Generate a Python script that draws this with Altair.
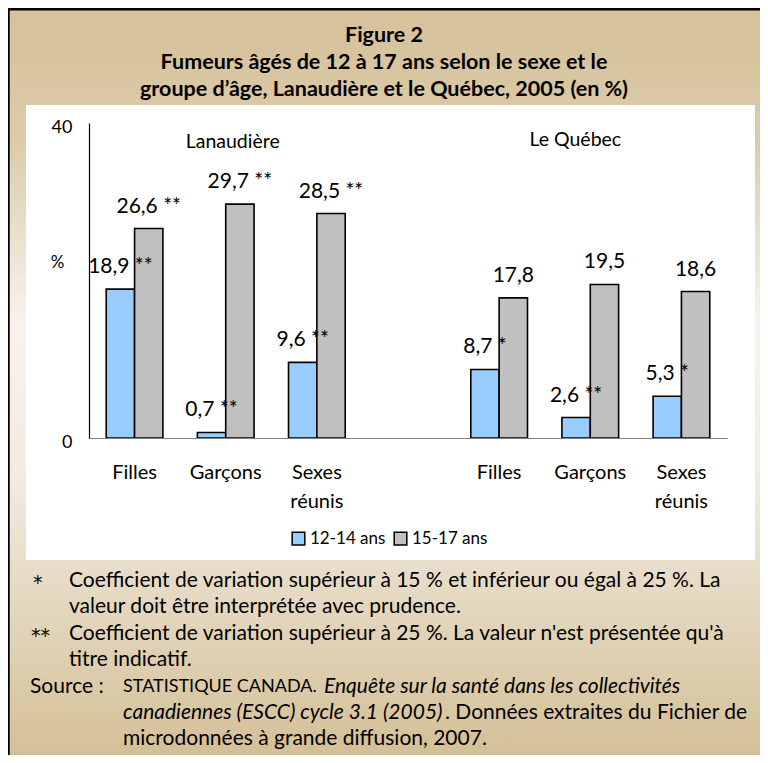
import altair as alt
import pandas as pd

# ---------------- data ----------------
regions = ["Lanaudière", "Le Québec"]
region_keys = ["L", "Q"]
categories = ["Filles", "Garçons", "Sexes réunis"]
age_groups = ["12-14 ans", "15-17 ans"]

lan_12_14 = [18.9, 0.7, 9.6]
lan_15_17 = [26.6, 29.7, 28.5]
que_12_14 = [8.7, 2.6, 5.3]
que_15_17 = [17.8, 19.5, 18.6]

lan_12_14_flag = ["**", "**", "**"]
lan_15_17_flag = ["**", "**", "**"]
que_12_14_flag = ["*", "**", "*"]
que_15_17_flag = ["", "", ""]

y_ticks = [0, 40]

# ---------------- table ----------------
slot_domain = ["L:Filles", "L:Garçons", "L:Sexes réunis", "gap",
               "Q:Filles", "Q:Garçons", "Q:Sexes réunis"]

rows = []
series = {
    ("L", "12-14 ans"): (lan_12_14, lan_12_14_flag),
    ("L", "15-17 ans"): (lan_15_17, lan_15_17_flag),
    ("Q", "12-14 ans"): (que_12_14, que_12_14_flag),
    ("Q", "15-17 ans"): (que_15_17, que_15_17_flag),
}
for (rk, age), (vals, flags) in series.items():
    for cat, v, f in zip(categories, vals, flags):
        lbl = f"{v:.1f}".replace(".", ",") + (" " + f if f else "")
        rows.append({"slot": f"{rk}:{cat}", "age": age, "value": v, "label": lbl})
df = pd.DataFrame(rows)

FONT = "Lato"
W, H = 638, 315
PAD_L, PAD_T = 81, 115
TOTAL_W, TOTAL_H = 752, 747

xscale = alt.Scale(domain=slot_domain, paddingInner=0.378, paddingOuter=0.189)
yscale = alt.Scale(domain=[0, 40], nice=False)
cscale = alt.Scale(domain=age_groups, range=["#99ccff", "#c0c0c0"])

label_expr = ("datum.value == 'gap' ? '' : "
              "(indexof(datum.value, 'Sexes') >= 0 ? ['Sexes', 'réunis'] : "
              "split(datum.value, ':')[1])")

# ---------------- decorative background ----------------
bg_df = pd.DataFrame({"k": [0]})
gradient = alt.LinearGradient(
    gradient="linear", x1=0, x2=0, y1=0, y2=1,
    stops=[
        alt.GradientStop(color="#d5c199", offset=0.0),
        alt.GradientStop(color="#dccbab", offset=0.18),
        alt.GradientStop(color="#f7f3ec", offset=0.42),
        alt.GradientStop(color="#f2ece2", offset=0.62),
        alt.GradientStop(color="#e2d5bb", offset=0.82),
        alt.GradientStop(color="#d4c097", offset=1.0),
    ],
)
background = alt.Chart(bg_df).mark_rect(fill=gradient).encode(
    x=alt.value(-PAD_L), x2=alt.value(TOTAL_W - PAD_L),
    y=alt.value(-PAD_T), y2=alt.value(TOTAL_H - PAD_T),
)
top_border = alt.Chart(bg_df).mark_rule(color="black", strokeWidth=2.5).encode(
    x=alt.value(-PAD_L), x2=alt.value(TOTAL_W - PAD_L), y=alt.value(-PAD_T + 1.2)
)
left_border = alt.Chart(bg_df).mark_rule(color="black", strokeWidth=2.5).encode(
    x=alt.value(-PAD_L + 0.5), y=alt.value(-PAD_T), y2=alt.value(TOTAL_H - PAD_T)
)
white_panel = alt.Chart(bg_df).mark_rect(fill="white").encode(
    x=alt.value(26 - 89), x2=alt.value(755 - 89),
    y=alt.value(105 - 123), y2=alt.value(560 - 123),
)

# ---------------- bars ----------------
base = alt.Chart(df).encode(
    x=alt.X("slot:N", scale=xscale, sort=slot_domain,
            axis=alt.Axis(title=None, labelExpr=label_expr, labelFont=FONT,
                          labelFontSize=20, labelColor="black", labelPadding=24,
                          labelLineHeight=29, ticks=False, domainColor="#808080",
                          domainWidth=1.2, labelAngle=0, zindex=1)),
    xOffset=alt.XOffset("age:N", scale=alt.Scale(domain=age_groups, paddingInner=0, paddingOuter=0)),
)

bars = base.mark_bar(stroke="black", strokeWidth=1.6).encode(
    y=alt.Y("value:Q", scale=yscale,
            axis=alt.Axis(values=y_ticks, title="%", titleAngle=0, titleFont=FONT,
                          titleFontSize=17, titleFontWeight="normal", titleColor="black",
                          titleX=-32, titleY=139, titleAlign="center", titleBaseline="middle",
                          labelFont=FONT, labelFontSize=18, labelColor="black",
                          labelPadding=17, labelOffset=4, ticks=False, grid=False,
                          domainColor="black", domainWidth=1.2, zindex=1)),
    color=alt.Color("age:N", scale=cscale,
                    legend=alt.Legend(title=None, orient="none", legendX=201, legendY=407,
                                      direction="horizontal", symbolType="square",
                                      symbolSize=160, symbolStrokeColor="black",
                                      symbolStrokeWidth=1.5, labelFont=FONT,
                                      labelFontSize=17, labelColor="black",
                                      labelOffset=3, columnPadding=5, zindex=1)),
)

bar_labels = base.mark_text(font=FONT, fontSize=21, baseline="bottom", dy=-12,
                            color="black").encode(
    y=alt.Y("value:Q", scale=yscale),
    text="label:N",
)

region_df = pd.DataFrame({"slot": ["L:Garçons", "Q:Garçons"], "region": regions,
                          "shift": [7, -15]})
region_labels = alt.Chart(region_df).transform_filter("datum.shift > 0").mark_text(
    font=FONT, fontSize=19.5, color="black", dx=7).encode(
    x=alt.X("slot:N", scale=xscale), y=alt.value(19), text="region:N")
region_labels2 = alt.Chart(region_df).transform_filter("datum.shift < 0").mark_text(
    font=FONT, fontSize=19.5, color="black", dx=-15).encode(
    x=alt.X("slot:N", scale=xscale), y=alt.value(17), text="region:N")


# ---------------- title & footnotes ----------------
def text_at(txt, x, y, align="left", size=21, weight="normal", style="normal", font=FONT):
    return alt.Chart(pd.DataFrame({"t": [txt]})).mark_text(
        font=font, fontSize=size, fontWeight=weight, fontStyle=style,
        align=align, baseline="middle", color="black").encode(
        x=alt.value(x), y=alt.value(y), text="t:N")


OX, OY = 89, 123  # page position of plot origin
title_lines = ["Figure 2",
               "Fumeurs âgés de 12 à 17 ans selon le sexe et le",
               "groupe d’âge, Lanaudière et le Québec, 2005 (en %)"]
title_y = [36, 63, 90]
texts = [text_at(t, 384 - OX, yy - OY, align="center", size=21.5, weight="bold")
         for t, yy in zip(title_lines, title_y)]

# (text, page x, page y, style, size, font)
foot = [
    ("*", 33, 583, "normal", 19, "DejaVu Sans"),
    ("Coefficient de variation supérieur à 15 % et inférieur ou égal à 25 %.  La", 69, 581, "normal", 21, FONT),
    ("valeur doit être interprétée avec prudence.", 69, 607, "normal", 21, FONT),
    ("**", 31, 636, "normal", 19, "DejaVu Sans"),
    ("Coefficient de variation supérieur à 25 %.  La valeur n'est présentée qu'à", 69, 634, "normal", 21, FONT),
    ("titre indicatif.", 69, 660, "normal", 21, FONT),
    ("Source :", 30, 687, "normal", 21, FONT),
    ("STATISTIQUE CANADA.", 123, 687, "normal", 18, FONT),
    ("Enquête sur la santé dans les collectivités", 324, 687, "italic", 21, FONT),
    ("canadiennes (ESCC) cycle 3.1 (2005)", 123, 713, "italic", 21, FONT),
    (".  Données extraites du Fichier de", 445, 713, "normal", 21, FONT),
    ("microdonnées à grande diffusion, 2007.", 123, 739, "normal", 21, FONT),
]
texts += [text_at(t, x - OX, y - OY, style=s, size=sz, font=fn) for t, x, y, s, sz, fn in foot]

chart = alt.layer(
    background, top_border, left_border, white_panel,
    bars, bar_labels, region_labels, region_labels2, *texts
).properties(
    width=W, height=H,
    autosize=alt.AutoSizeParams(type="none"),
    padding={"left": PAD_L, "top": PAD_T, "right": TOTAL_W - PAD_L - W,
             "bottom": TOTAL_H - PAD_T - H},
    background="#d5c199",
).configure_view(stroke=None)

chart.save("out.html", embed_options={"renderer": "svg", "actions": False})
